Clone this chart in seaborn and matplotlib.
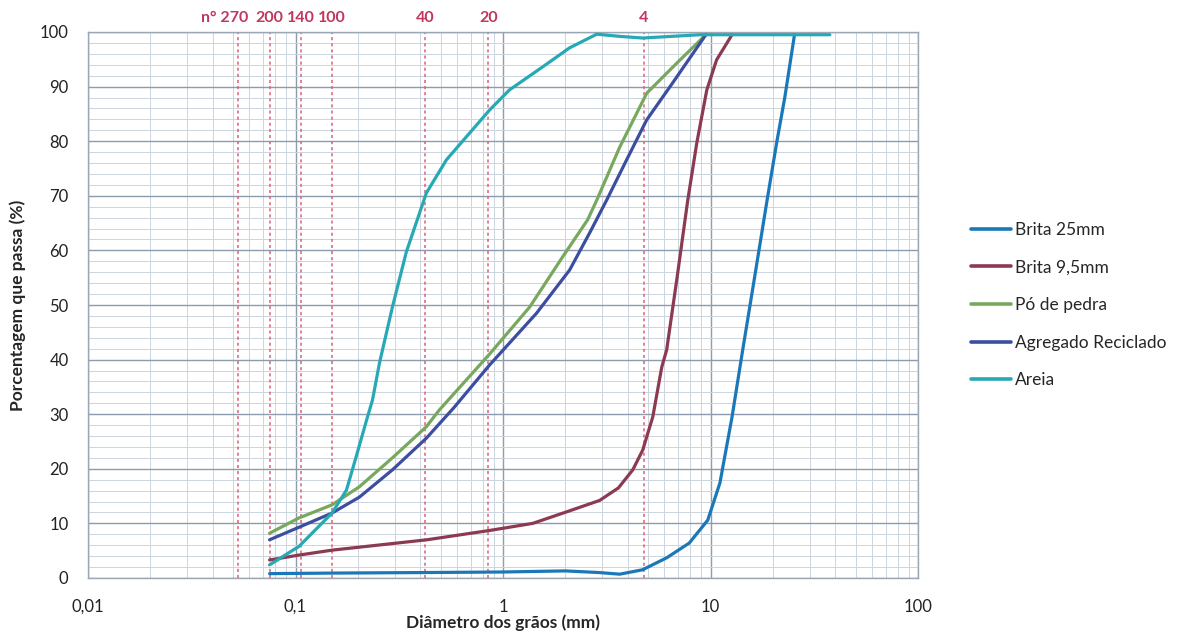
import numpy as np
import pandas as pd
import matplotlib
matplotlib.use("Agg")
import matplotlib.pyplot as plt
from matplotlib.ticker import FixedLocator, NullFormatter
import seaborn as sns

# ---- data (diameter mm, % passing) ----
series_names = ["Brita 25mm", "Brita 9,5mm", "Pó de pedra", "Agregado Reciclado", "Areia"]

brita25_d = [0.075, 0.15, 0.42, 1.0, 2.0, 2.9, 3.65, 4.7, 6.15, 7.9, 9.7, 11.1, 12.7, 14.3, 16.3, 18.7, 20.9, 22.8, 25.4]
brita25_p = [0.8, 0.9, 1.0, 1.1, 1.3, 1.0, 0.7, 1.5, 3.7, 6.4, 10.6, 17.4, 29.5, 41.8, 55.0, 69.0, 80.0, 88.0, 99.5]

brita95_d = [0.075, 0.104, 0.15, 0.43, 0.62, 0.86, 1.39, 2.02, 2.92, 3.6, 4.22, 4.71, 5.27, 5.82, 6.15, 6.9, 7.77, 8.59, 9.6, 10.7, 12.7]
brita95_p = [3.3, 4.2, 5.1, 7.0, 7.9, 8.7, 10.0, 12.1, 14.2, 16.5, 19.8, 23.4, 29.5, 38.6, 41.8, 55.0, 69.2, 79.7, 89.4, 94.9, 99.5]

po_d = [0.075, 0.104, 0.150, 0.203, 0.293, 0.427, 0.494, 0.861, 1.343, 1.937, 2.557, 2.83, 3.65, 4.93, 6.88, 9.5]
po_p = [8.2, 11.0, 13.4, 16.7, 22.0, 27.7, 30.8, 41.0, 49.6, 58.8, 65.6, 69.2, 78.9, 88.8, 94.3, 99.5]

agr_d = [0.075, 0.104, 0.150, 0.203, 0.293, 0.427, 0.58, 0.861, 1.451, 2.094, 2.615, 3.158, 3.944, 4.925, 6.576, 9.5]
agr_p = [7.0, 9.3, 11.9, 14.8, 19.8, 25.6, 31.2, 39.0, 48.5, 56.4, 63.2, 69.2, 76.6, 83.9, 90.7, 99.5]

areia_d = [0.075, 0.104, 0.150, 0.176, 0.196, 0.220, 0.235, 0.254, 0.293, 0.342, 0.427, 0.534, 0.861, 1.075, 1.551, 2.094, 2.83, 3.65, 4.71, 6.5, 8.9, 37.6]
areia_p = [2.4, 5.8, 11.9, 16.1, 22.2, 28.9, 32.6, 39.4, 49.6, 59.7, 70.5, 76.6, 85.7, 89.4, 93.6, 97.1, 99.6, 99.2, 98.9, 99.2, 99.5, 99.5]

sieve_labels = ["n° 270", "200", "140", "100", "40", "20", "4"]
sieve_sizes = [0.053, 0.075, 0.106, 0.15, 0.42, 0.85, 4.76]

x_ticks = [0.01, 0.1, 1, 10, 100]
x_ticklabels = ["0,01", "0,1", "1", "10", "100"]
y_ticks = list(range(0, 101, 10))

colors = ["#1b78b8", "#8b3a52", "#78a85e", "#3b4ea0", "#27a9b5"]

frames = []
for name, d, p in zip(series_names,
                      [brita25_d, brita95_d, po_d, agr_d, areia_d],
                      [brita25_p, brita95_p, po_p, agr_p, areia_p]):
    frames.append(pd.DataFrame({"d": d, "p": p, "serie": name}))
df = pd.concat(frames, ignore_index=True)

sns.set_style("white")
plt.rcParams["font.family"] = ["Lato", "DejaVu Sans"]

fig = plt.figure(figsize=(11.88, 6.32), dpi=100)
ax = fig.add_axes([88/1188, 54/632, (918-88)/1188, (578-32)/632])

ax.set_xscale("log")
ax.set_xlim(0.01, 100)
ax.set_ylim(0, 100)

# grid
ax.set_yticks(y_ticks)
ax.yaxis.set_minor_locator(FixedLocator([v for v in range(0, 101, 2) if v % 10 != 0]))
ax.set_xticks(x_ticks)
ax.set_xticklabels(x_ticklabels)
minor_x = [m * 10.0**e for e in range(-2, 2) for m in range(2, 10)]
ax.xaxis.set_minor_locator(FixedLocator(minor_x))
ax.xaxis.set_minor_formatter(NullFormatter())
ax.grid(which="major", color="#8c9cac", linewidth=1.0)
ax.grid(which="minor", color="#ccd5de", linewidth=0.7)
ax.set_axisbelow(True)

# sieve lines
for s, lab in zip(sieve_sizes, sieve_labels):
    ax.axvline(s, color="#d9607a", linestyle=(0, (2, 2)), linewidth=1.1, zorder=1.5)
    if lab.startswith("n°"):
        ax.text(s * 1.12, 1.012, lab, transform=ax.get_xaxis_transform(), ha="right", va="bottom",
                color="#c0385e", fontsize=11.5, fontweight="bold")
    else:
        ax.text(s, 1.012, lab, transform=ax.get_xaxis_transform(), ha="center", va="bottom",
                color="#c0385e", fontsize=11.5, fontweight="bold")

sns.lineplot(data=df, x="d", y="p", hue="serie", hue_order=series_names,
             palette=dict(zip(series_names, colors)), estimator=None, sort=False,
             linewidth=2.3, ax=ax, zorder=3)
for ln in ax.get_lines():
    ln.set_solid_joinstyle("round")
    ln.set_solid_capstyle("round")

ax.tick_params(axis="both", which="both", length=0, labelsize=12, colors="#222222")
ax.tick_params(axis="x", pad=15)
ax.tick_params(axis="y", pad=14)
for sp in ax.spines.values():
    sp.set_color("#9aa8b6")
    sp.set_linewidth(1.0)

ax.set_xlabel("Diâmetro dos grãos (mm)", fontsize=12.5, fontweight="bold", labelpad=0)
ax.set_ylabel("Porcentagem que passa (%)", fontsize=12.5, fontweight="bold", labelpad=10)

leg = ax.legend(title=None, loc="center left", bbox_to_anchor=(1.045, 0.5), frameon=False,
                fontsize=12.5, handlelength=2.3, handletextpad=0.25, labelspacing=1.25)
for line in leg.get_lines():
    line.set_linewidth(2.6)

fig.savefig("out.png", dpi=100)
